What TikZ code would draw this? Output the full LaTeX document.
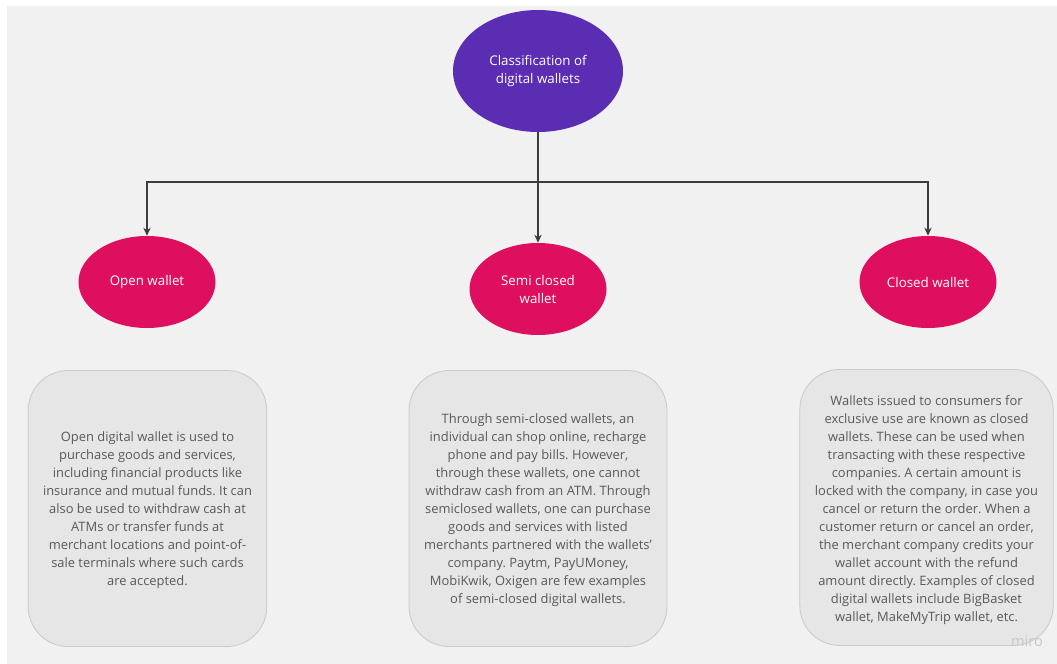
\documentclass[tikz,border=0pt]{standalone}
\usepackage{fontspec}
\setmainfont{Open Sans}
\usepackage{tikz}
\usetikzlibrary{shapes.geometric,arrows.meta}
\definecolor{walletpurple}{HTML}{5B2DB3}
\definecolor{walletpink}{HTML}{DE0F5E}
\definecolor{boxfill}{HTML}{E6E6E6}
\definecolor{boxline}{HTML}{C9C9C9}
\definecolor{pagegray}{HTML}{F1F1F1}
\definecolor{bodytext}{HTML}{595959}
\definecolor{linkgray}{HTML}{3D3D3D}
\frenchspacing

\begin{document}
\begin{tikzpicture}[
    x=0.75pt, y=-0.75pt,
    topnode/.style={ellipse, fill=walletpurple, text=white, inner sep=0pt, minimum width=127.5pt, minimum height=91.5pt, align=center, font=\fontsize{10}{13.5}\selectfont},
    walletnode/.style={ellipse, fill=walletpink, text=white, inner sep=0pt, minimum width=102.75pt, minimum height=69pt, align=center, font=\fontsize{10}{13.5}\selectfont},
    infobox/.style={rectangle, rounded corners=30pt, draw=boxline, fill=boxfill, line width=0.6pt, minimum height=207pt},
    infotext/.style={align=center, text=bodytext, font=\fontsize{9.7}{13.5}\selectfont},
    link/.style={draw=linkgray, line width=1.6pt},
    arrowlink/.style={link, -{Stealth[length=6pt,width=5.5pt]}},
    ]
    \useasboundingbox (0,0) rectangle (1057,664);
    \fill[pagegray] (7,6) rectangle (1057,664);

    %Nodes
    \node[topnode]      (classify)   at (538,71)  {Classification of\\digital wallets};
    \node[walletnode]   (openw)      at (147,282) {Open wallet};
    \node[walletnode]   (semiw)      at (538,289) {Semi closed\\wallet};
    \node[walletnode]   (closedw)    at (928,282) {Closed wallet};
    \coordinate         (split)      at (538,182);

    \node[infobox, minimum width=179pt]    (openbox)    at (147.5,508.5) {};
    \node[infobox, minimum width=193.5pt]  (semibox)    at (538,508.5)   {};
    \node[infobox, minimum width=190pt]    (closedbox)  at (926.5,507.5) {};

    \node[infotext] (opentext) at ([yshift=-1.2pt]openbox.center) {Open digital wallet is used to\\purchase goods and services,\\including financial products like\\insurance and mutual funds. It can\\also be used to withdraw cash at\\ATMs or transfer funds at\\merchant locations and point-of-\\sale terminals where such cards\\are accepted.};
    \node[infotext] (semitext) at ([yshift=-1.5pt]semibox.center) {Through semi-closed wallets, an\\individual can shop online, recharge\\phone and pay bills. However,\\through these wallets, one cannot\\withdraw cash from an ATM. Through\\semiclosed wallets, one can purchase\\goods and services with listed\\merchants partnered with the wallets'\\company. Paytm, PayUMoney,\\MobiKwik, Oxigen are few examples\\of semi-closed digital wallets.};
    \node[infotext] (closedtext) at ([yshift=-2pt]closedbox.center) {Wallets issued to consumers for\\exclusive use are known as closed\\wallets. These can be used when\\transacting with these respective\\companies. A certain amount is\\locked with the company, in case you\\cancel or return the order. When a\\customer return or cancel an order,\\the merchant company credits your\\wallet account with the refund\\amount directly. Examples of closed\\digital wallets include BigBasket\\wallet, MakeMyTrip wallet, etc.};

    \node[text=black!22, font=\fontsize{11}{11}\selectfont] (miro) at (1027,641) {miro};

    %Lines
    \draw[link] (classify.south) -- (split);
    \draw[arrowlink] (split) -| (openw.north);
    \draw[arrowlink] (split) -- (semiw.north);
    \draw[arrowlink] (split) -| (closedw.north);
\end{tikzpicture}
\end{document}
